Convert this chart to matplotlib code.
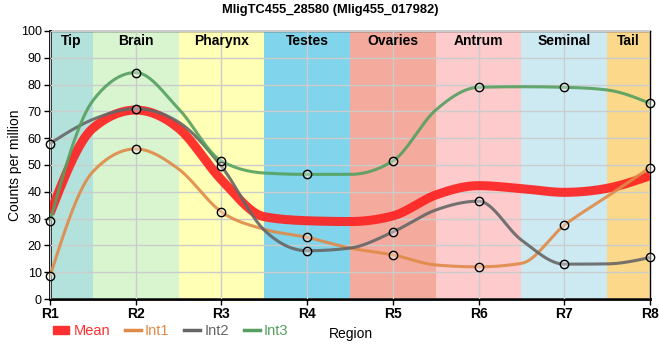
import numpy as np
import matplotlib
matplotlib.use("Agg")
import matplotlib.pyplot as plt
from matplotlib.patches import Patch
from matplotlib.lines import Line2D

plt.rcParams['font.family'] = ['Liberation Sans', 'DejaVu Sans']

regions = ["R1", "R2", "R3", "R4", "R5", "R6", "R7", "R8"]
bands = ["Tip", "Brain", "Pharynx", "Testes", "Ovaries", "Antrum", "Seminal", "Tail"]
band_colors = ["#b3e2dd", "#d8f5d0", "#ffffb5", "#80d4eb", "#f4ab9d", "#fdcbcc", "#cdeaf3", "#fcd98a"]

# values at region centres and band boundaries (R1, R1.5, R2, ..., R8)
int1 = [8.5, 47.5, 56, 48.5, 32.5, 26, 23, 19, 16.5, 12.7, 12, 13.3, 27.5, 38.2, 49]
int2 = [58, 67, 71, 66, 49.5, 25.7, 18, 19, 25, 33.2, 36.5, 22, 13, 13.1, 15.5]
int3 = [29, 74, 84.5, 71, 51.5, 47, 46.5, 46.5, 51.5, 70.5, 79, 79.2, 79, 78, 73]
mean = [31.8, 63.7, 70.5, 63.7, 44.5, 30.7, 29.2, 28.9, 31, 38.8, 42.3, 41.2, 39.8, 41.3, 46]

title = "MligTC455_28580 (Mlig455_017982)"


def monotone(xs, ys, n=40):
    xs = np.asarray(xs, float); ys = np.asarray(ys, float)
    m = len(xs)
    h = np.diff(xs); s = np.diff(ys) / h
    t = np.zeros(m)
    for i in range(1, m - 1):
        s0, s1 = s[i - 1], s[i]
        p = (s0 * h[i] + s1 * h[i - 1]) / (h[i - 1] + h[i])
        t[i] = (np.sign(s0) + np.sign(s1)) * min(abs(s0), abs(s1), 0.5 * abs(p))
    t[0] = (3 * s[0] - t[1]) / 2
    t[-1] = (3 * s[-1] - t[-2]) / 2
    X, Y = [], []
    for i in range(m - 1):
        u = np.linspace(0, 1, n)
        h00 = 2 * u**3 - 3 * u**2 + 1
        h10 = u**3 - 2 * u**2 + u
        h01 = -2 * u**3 + 3 * u**2
        h11 = u**3 - u**2
        X.extend(xs[i] + u * h[i])
        Y.extend(h00 * ys[i] + h10 * h[i] * t[i] + h01 * ys[i + 1] + h11 * h[i] * t[i + 1])
    return np.array(X), np.array(Y)


fig = plt.figure(figsize=(6.6, 3.6), dpi=100)
ax = fig.add_axes([50 / 660, 61 / 360, 600 / 660, 268 / 360])
x = np.arange(1, len(regions) + 1)
xl = np.linspace(1, len(regions), 2 * len(regions) - 1)

for i, (b, c) in enumerate(zip(bands, band_colors)):
    lo = max(1, x[i] - 0.5); hi = min(len(regions), x[i] + 0.5)
    ax.axvspan(lo, hi, color=c, lw=0, zorder=0)
    ax.text((lo + hi) / 2, 96.3, b, ha='center', va='center', fontsize=10, fontweight='bold', zorder=5)

ax.set_xlim(1, len(regions))
ax.set_ylim(0, 100)
ax.set_xticks(x)
ax.set_xticklabels(regions, fontsize=10, fontweight='bold')
ax.set_yticks(np.arange(0, 101, 10))
ax.tick_params(axis='y', labelsize=9, length=4, width=1, pad=2)
ax.tick_params(axis='x', length=4, width=1, pad=2)
ax.grid(True, color='#cccccc', lw=1, zorder=1)
ax.set_axisbelow(False)
for sp in ['left', 'bottom']:
    ax.spines[sp].set_linewidth(2)
for sp in ['top', 'right']:
    ax.spines[sp].set_linewidth(1)

series = [(mean, "#ff1f1f", 6.5, "Mean", False),
          (int1, "#e08a48", 2.2, "Int1", True),
          (int2, "#666666", 2.2, "Int2", True),
          (int3, "#55a060", 2.2, "Int3", True)]
for ys, c, lw, name, mk in series:
    X, Y = monotone(xl, ys)
    ax.plot(X, Y, color=c, lw=lw, alpha=0.9, zorder=3, solid_capstyle='butt')
for ys, c, lw, name, mk in series:
    if mk:
        ax.plot(x, ys[::2], 'o', ms=6, mfc=(1, 1, 1, 0.35), mec='black', mew=1, zorder=4, clip_on=False)

ax.set_ylabel("Counts per million", fontsize=10)
ax.yaxis.set_label_coords(-0.047, 0.5)
ax.set_xlabel("Region", fontsize=10)
ax.xaxis.set_label_coords(0.502, -0.105)
fig.suptitle(title, fontsize=9.3, fontweight='bold', y=0.99)

handles = [Patch(color="#ff3030"), Line2D([], [], color="#e08a48", lw=2.5),
           Line2D([], [], color="#666666", lw=2.5), Line2D([], [], color="#55a060", lw=2.5)]
leg = fig.legend(handles, ["Mean", "Int1", "Int2", "Int3"], loc='center left',
                 bbox_to_anchor=(53 / 660, 1 - 331 / 360), ncol=4, frameon=False,
                 fontsize=10.5, handlelength=1.1, handleheight=0.5, handletextpad=0.3,
                 columnspacing=1.0, borderpad=0, borderaxespad=0)
for txt, c in zip(leg.get_texts(), ["#ff3030", "#e08a48", "#666666", "#55a060"]):
    txt.set_color(c)

fig.savefig("out.png", dpi=100)
